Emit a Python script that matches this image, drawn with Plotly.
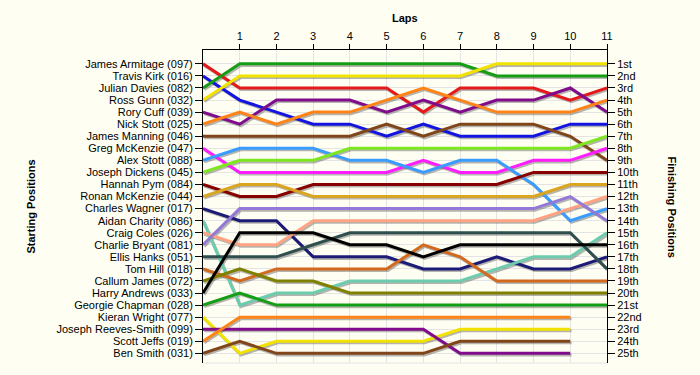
import plotly.graph_objects as go

laps = list(range(12))
lap_ticks = list(range(1, 12))

drivers = [
    "James Armitage (097)", "Travis Kirk (016)", "Julian Davies (082)", "Ross Gunn (032)",
    "Rory Cuff (039)", "Nick Stott (025)", "James Manning (046)", "Greg McKenzie (047)",
    "Alex Stott (088)", "Joseph Dickens (045)", "Hannah Pym (084)", "Ronan McKenzie (044)",
    "Charles Wagner (017)", "Aidan Charity (086)", "Craig Coles (026)", "Charlie Bryant (081)",
    "Ellis Hanks (051)", "Tom Hill (018)", "Callum James (072)", "Harry Andrews (033)",
    "Georgie Chapman (028)", "Kieran Wright (077)", "Joseph Reeves-Smith (099)",
    "Scott Jeffs (019)", "Ben Smith (031)",
]

finish_labels = [
    "1st", "2nd", "3rd", "4th", "5th", "6th", "7th", "8th", "9th", "10th", "11th", "12th",
    "13th", "14th", "15th", "16th", "17th", "18th", "19th", "20th", "21st", "22nd", "23rd",
    "24th", "25th",
]

colors = [
    "#E41A1A", "#1414E0", "#149E14", "#F2E200", "#800C8C", "#FF8418", "#80461A",
    "#FF1CFF", "#3A9CFF", "#7FE622", "#860000", "#DAA520", "#1C1C78", "#6CCDAE",
    "#FFA382", "#9378D8", "#2F4F4F", "#D2691E", "#808000", "#000000", "#149E14",
    "#F2E200", "#800C8C", "#FF8418", "#80461A",
]

pos_armitage = [1, 3, 3, 3, 3, 3, 5, 3, 3, 3, 4, 3]
pos_kirk = [2, 4, 5, 6, 6, 7, 6, 7, 7, 7, 6, 6]
pos_davies = [3, 1, 1, 1, 1, 1, 1, 1, 2, 2, 2, 2]
pos_gunn = [4, 2, 2, 2, 2, 2, 2, 2, 1, 1, 1, 1]
pos_cuff = [5, 6, 4, 4, 4, 5, 4, 5, 4, 4, 3, 5]
pos_nstott = [6, 5, 6, 5, 5, 4, 3, 4, 5, 5, 5, 4]
pos_manning = [7, 7, 7, 7, 7, 6, 7, 6, 6, 6, 7, 9]
pos_gmckenzie = [8, 10, 10, 10, 10, 10, 9, 10, 10, 9, 9, 8]
pos_astott = [9, 8, 8, 8, 9, 9, 10, 9, 9, 11, 14, 13]
pos_dickens = [10, 9, 9, 9, 8, 8, 8, 8, 8, 8, 8, 7]
pos_pym = [11, 12, 12, 11, 11, 11, 11, 11, 11, 10, 10, 10]
pos_rmckenzie = [12, 11, 11, 12, 12, 12, 12, 12, 12, 12, 11, 11]
pos_wagner = [13, 14, 14, 17, 17, 17, 18, 18, 17, 18, 18, 17]
pos_charity = [14, 21, 20, 20, 19, 19, 19, 19, 18, 17, 17, 15]
pos_coles = [15, 16, 16, 14, 14, 14, 14, 14, 14, 14, 13, 12]
pos_bryant = [16, 13, 13, 13, 13, 13, 13, 13, 13, 13, 12, 14]
pos_hanks = [17, 17, 17, 16, 15, 15, 15, 15, 15, 15, 15, 18]
pos_hill = [18, 19, 18, 18, 18, 18, 16, 17, 19, 19, 19, 19]
pos_james = [19, 18, 19, 19, 20, 20, 20, 20, 20, 20, 20, 20]
pos_andrews = [20, 15, 15, 15, 16, 16, 17, 16, 16, 16, 16, 16]
pos_chapman = [21, 20, 21, 21, 21, 21, 21, 21, 21, 21, 21, 21]
pos_wright = [22, 25, 24, 24, 24, 24, 24, 23, 23, 23, 23]
pos_reeves = [23, 23, 23, 23, 23, 23, 23, 25, 25, 25, 25]
pos_jeffs = [24, 22, 22, 22, 22, 22, 22, 22, 22, 22, 22]
pos_smith = [25, 24, 25, 25, 25, 25, 25, 24, 24, 24, 24]

positions = [
    pos_armitage, pos_kirk, pos_davies, pos_gunn, pos_cuff, pos_nstott, pos_manning,
    pos_gmckenzie, pos_astott, pos_dickens, pos_pym, pos_rmckenzie, pos_wagner,
    pos_charity, pos_coles, pos_bryant, pos_hanks, pos_hill, pos_james, pos_andrews,
    pos_chapman, pos_wright, pos_reeves, pos_jeffs, pos_smith,
]

FONT = "Liberation Sans, Arial, sans-serif"
BG = "#FFFEF2"
GRID = "#E4E4E4"

fig = go.Figure()

# drop shadows
for name, pos in zip(drivers, positions):
    xs = laps[:len(pos)]
    fig.add_trace(go.Scatter(
        x=[v + 0.035 for v in xs], y=[v + 0.13 for v in pos],
        mode="lines", line=dict(color="rgba(90,90,90,0.45)", width=3),
        hoverinfo="skip", showlegend=False,
    ))

for name, pos, col in zip(drivers, positions, colors):
    xs = laps[:len(pos)]
    fig.add_trace(go.Scatter(
        x=xs, y=pos, mode="lines", name=name,
        line=dict(color=col, width=3), showlegend=False,
    ))

# invisible trace to anchor the right axis
fig.add_trace(go.Scatter(
    x=[0, 11], y=[1, 25], yaxis="y2", mode="lines",
    line=dict(color="rgba(0,0,0,0)"), hoverinfo="skip", showlegend=False,
))

yr = [25.8, -0.15]
fig.update_layout(
    width=700, height=375,
    margin=dict(l=203, r=93, t=50, b=12),
    paper_bgcolor=BG, plot_bgcolor=BG,
    font=dict(family=FONT, size=11, color="#000000"),
    xaxis=dict(
        range=[0, 11], side="top", tickvals=lap_ticks, ticks="outside", ticklen=5,
        tickcolor="#000", showline=True, linecolor="#000", linewidth=1,
        showgrid=True, gridcolor=GRID, zeroline=False,
        tickfont=dict(family=FONT, size=11, color="#000"),
    ),
    yaxis=dict(
        range=yr, tickvals=list(range(1, 26)), ticktext=drivers, ticks="outside",
        ticklen=7, tickcolor="#000", showline=True, linecolor="#000", linewidth=1,
        showgrid=True, gridcolor=GRID, zeroline=False,
        tickfont=dict(family=FONT, size=11, color="#000"),
    ),
    yaxis2=dict(
        range=yr, overlaying="y", side="right", tickvals=list(range(1, 26)),
        ticktext=finish_labels, ticks="outside", ticklen=7, tickcolor="#000",
        showline=True, linecolor="#000", linewidth=1, showgrid=False, zeroline=False,
        tickfont=dict(family=FONT, size=11, color="#000"),
    ),
    shapes=[dict(type="line", xref="paper", yref="paper", x0=0, x1=1, y0=0, y1=0,
                 line=dict(color=GRID, width=1))],
    annotations=[
        dict(text="<b>Laps</b>", xref="paper", yref="paper", x=0.5, y=1.102,
             xanchor="center", yanchor="middle",
             showarrow=False, font=dict(family=FONT, size=11)),
        dict(text="<b>Starting Positions</b>", xref="paper", yref="paper", x=-0.428,
             y=0.5, xanchor="center", yanchor="middle",
             textangle=-90, showarrow=False, font=dict(family=FONT, size=11)),
        dict(text="<b>Finishing Positions</b>", xref="paper", yref="paper", x=1.161,
             y=0.5, xanchor="center", yanchor="middle",
             textangle=90, showarrow=False, font=dict(family=FONT, size=11)),
    ],
)

fig.write_html(
    "out.html",
    config={"displayModeBar": False},
    post_script="document.body.style.margin='0';document.body.style.padding='0';"
                "document.body.style.background='#FFFEF2';",
)
